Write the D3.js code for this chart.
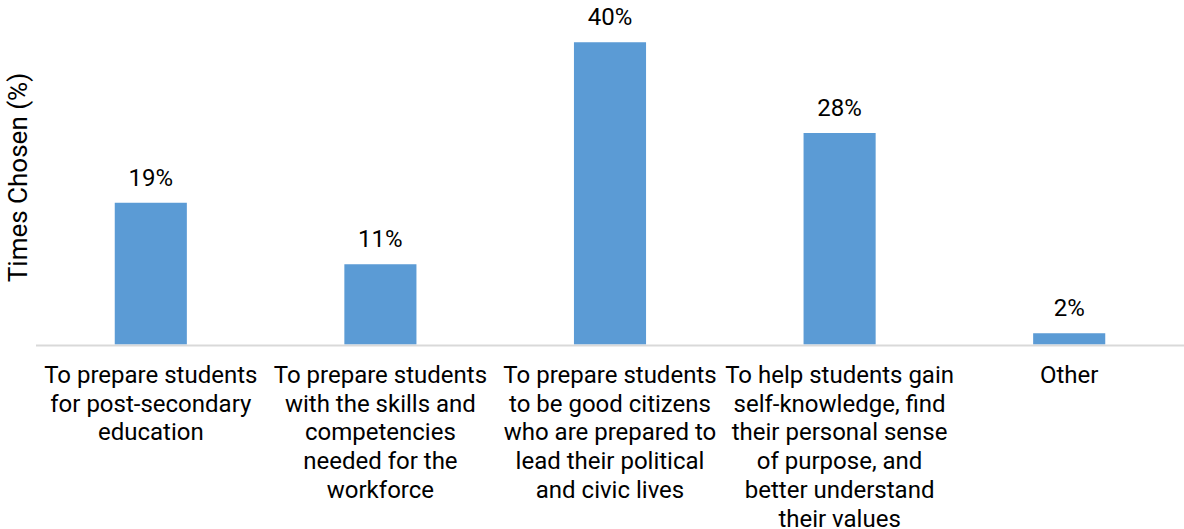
<!DOCTYPE html>
<html><head><meta charset="utf-8">
<script src="https://cdn.jsdelivr.net/npm/d3@7"></script>
<style>body{margin:0;background:#fff}svg{display:block}text{font-family:Roboto,sans-serif;fill:#000}</style>
</head><body>
<svg id="c" width="1184" height="529"></svg>
<script>
const categories = [
  ["To prepare students","for post-secondary","education"],
  ["To prepare students","with the skills and","competencies","needed for the","workforce"],
  ["To prepare students","to be good citizens","who are prepared to","lead their political","and civic lives"],
  ["To help students gain","self-knowledge, find","their personal sense","of purpose, and","better understand","their values"],
  ["Other"]
];
const values = [18.9, 10.7, 40.3, 28.2, 1.5];
const valueLabels = ["19%","11%","40%","28%","2%"];
const yTitle = "Times Chosen (%)";

const svg = d3.select("#c");
const plotL = 36, plotR = 1184, plotT = 7, plotB = 344.5;
const x = d3.scaleBand().domain(d3.range(categories.length)).range([plotL, plotR]).padding(0);
const y = d3.scaleLinear().domain([0, 45]).range([plotB, plotT]);
const bw = x.bandwidth() * 0.314;

svg.selectAll("rect.bar").data(values).join("rect")
  .attr("class","bar")
  .attr("x",(d,i)=>x(i)+x.bandwidth()/2-bw/2)
  .attr("width",bw)
  .attr("y",d=>y(d))
  .attr("height",d=>y(0)-y(d))
  .attr("fill","#5b9bd5");

svg.append("line").attr("x1",plotL).attr("x2",plotR).attr("y1",y(0)+1).attr("y2",y(0)+1)
  .attr("stroke","#d9d9d9").attr("stroke-width",2);

svg.selectAll("text.val").data(values).join("text")
  .attr("class","val")
  .attr("x",(d,i)=>x(i)+x.bandwidth()/2)
  .attr("y",d=>y(d)-17)
  .attr("text-anchor","middle")
  .attr("font-size",24)
  .text((d,i)=>valueLabels[i]);

const g = svg.selectAll("text.cat").data(categories).join("text")
  .attr("class","cat")
  .attr("text-anchor","middle")
  .attr("font-size",24)
  .attr("x",(d,i)=>x(i)+x.bandwidth()/2)
  .attr("y",383);
g.selectAll("tspan").data(d=>d).join("tspan")
  .attr("x",function(){return this.parentNode.getAttribute("x");})
  .attr("dy",(d,i)=>i===0?0:28.7)
  .text(d=>d);

svg.append("text")
  .attr("transform",`translate(27,177.5) rotate(-90)`)
  .attr("text-anchor","middle")
  .attr("font-size",26)
  .text(yTitle);
</script>
</body></html>
